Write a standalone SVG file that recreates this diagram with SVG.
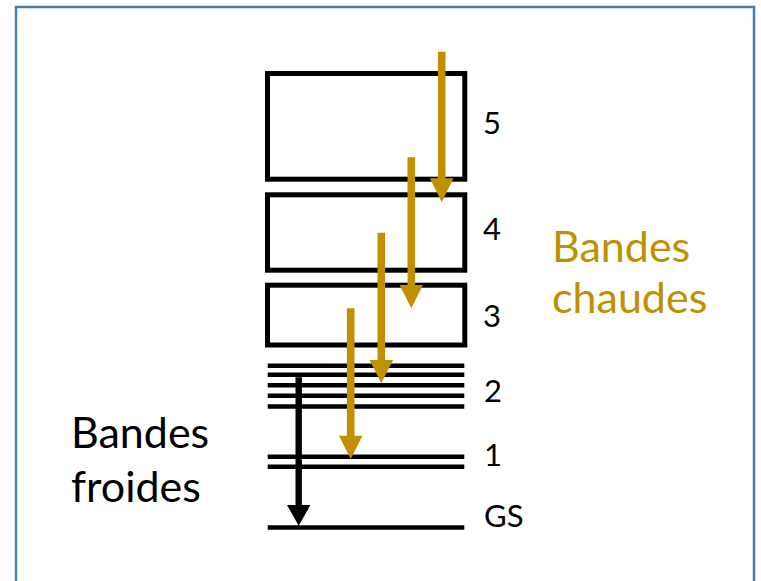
<svg xmlns="http://www.w3.org/2000/svg" width="761" height="581" viewBox="0 0 761 581">
<style>
.frame{fill:#fff;stroke:#4a7db3;stroke-width:2.5}
.band{fill:#fff;stroke:#000;stroke-width:5}
.lvl{stroke:#000;stroke-width:4.6;fill:none}
.lab{font-family:Lato,"Open Sans",sans-serif;font-size:31px;fill:#000}
.big{font-family:Lato,"Open Sans",sans-serif;font-size:43px}
.gold{fill:#bf9000}
.blk{fill:#000}
</style>
<rect class="frame" x="16" y="7" width="738" height="600"/>
<g id="band5"><rect class="band" x="267.5" y="73.5" width="197.3" height="105.7"/><text class="lab" x="483" y="133.5">5</text></g>
<g id="band4"><rect class="band" x="267.5" y="194.8" width="197.3" height="75.4"/><text class="lab" x="483" y="240">4</text></g>
<g id="band3"><rect class="band" x="267.5" y="285.2" width="197.3" height="59.8"/><text class="lab" x="483" y="327">3</text></g>
<g id="level2"><path class="lvl" d="M267.7 365.8H464.3M267.7 374.8H464.3M267.7 385.2H464.3M267.7 395.8H464.3M267.7 406.5H464.3"/><text class="lab" x="484" y="401.7">2</text></g>
<g id="level1"><path class="lvl" d="M267.7 456.8H464.3M267.7 466.8H464.3"/><text class="lab" x="484" y="466">1</text></g>
<g id="gs"><path class="lvl" d="M267.7 527.5H464.3"/><text class="lab" x="484" y="526.7">GS</text></g>
<g id="chaudes"><text class="big gold" x="552" y="261.7">Bandes</text><text class="big gold" x="552" y="313.3">chaudes</text></g>
<g id="froides"><text class="big blk" x="71" y="448.3">Bandes</text><text class="big blk" x="71" y="501.7">froides</text></g>
<g id="connectors">
<path class="gold" d="M437.9 51.7H445.5V178.3H453.4L441.7 202.3L430 178.3H437.9Z"/>
<path class="gold" d="M407.5 157.3H415.1V285H423L411.3 308.3L399.6 285H407.5Z"/>
<path class="gold" d="M377.5 232.7H385.1V360H393L381.3 383.3L369.6 360H377.5Z"/>
<path class="gold" d="M346.9 308.3H354.5V435.7H362.4L350.7 459L339 435.7H346.9Z"/>
<path class="blk" d="M295.5 377.3H301.9V505H310.4L298.7 525.7L287 505H295.5Z"/>
</g>
</svg>
